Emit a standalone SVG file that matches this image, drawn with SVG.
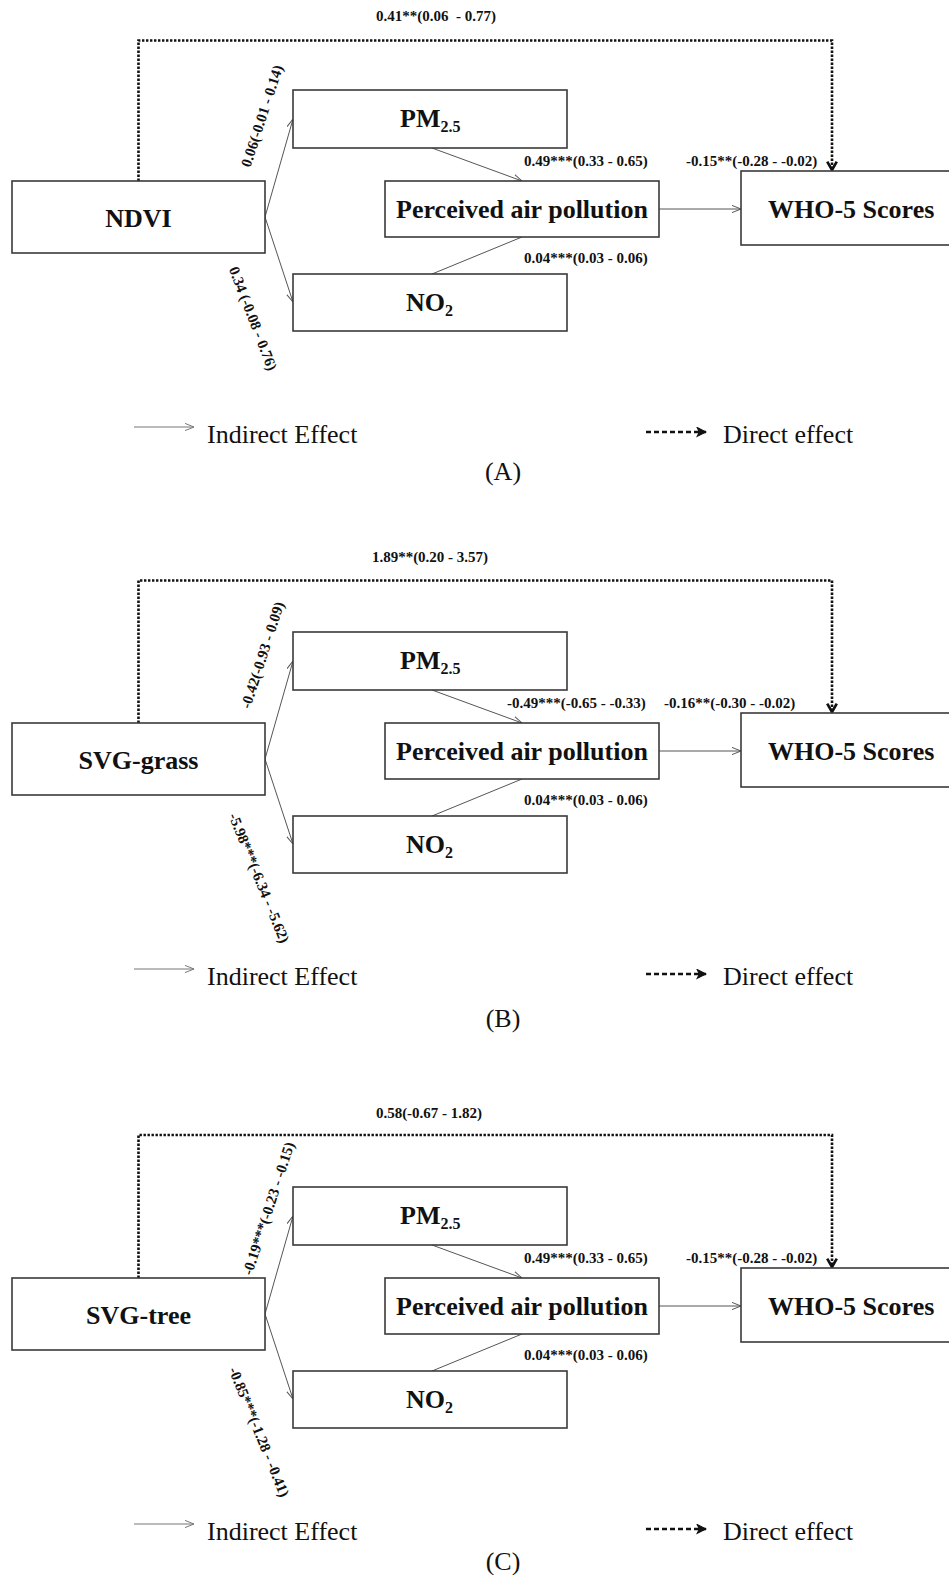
<svg xmlns="http://www.w3.org/2000/svg" width="949" height="1575" viewBox="0 0 949 1575">
<style>
.box{fill:#fff;stroke:#3a3a3a;stroke-width:1.6}
.lbl{font-family:"Liberation Serif","Times New Roman",serif;font-weight:bold;font-size:26px;fill:#111}
.sub{font-size:16px}
.coef{font-family:"Liberation Serif","Times New Roman",serif;font-weight:bold;font-size:15px;fill:#111}
.leg{font-family:"Liberation Serif","Times New Roman",serif;font-size:26px;fill:#111}
.thin{fill:none;stroke:#555;stroke-width:1}
.dotted{fill:none;stroke:#111;stroke-width:2.6;stroke-dasharray:2.4 1.6}
.dashed{fill:none;stroke:#111;stroke-width:2.4;stroke-dasharray:5 3}
</style>
<defs>
<marker id="open" viewBox="0 0 10 10" refX="10" refY="5" markerWidth="9" markerHeight="9" markerUnits="userSpaceOnUse" orient="auto"><path d="M0,1 L10,5 L0,9" fill="none" stroke="#555" stroke-width="1.1"/></marker>
<marker id="openLeg" viewBox="0 0 10 10" refX="10" refY="5" markerWidth="9" markerHeight="9" markerUnits="userSpaceOnUse" orient="auto"><path d="M0,1 L10,5 L0,9" fill="none" stroke="#777" stroke-width="1.1"/></marker>
<marker id="bold" viewBox="0 0 10 10" refX="9" refY="5" markerWidth="12" markerHeight="12" markerUnits="userSpaceOnUse" orient="auto"><path d="M2,1 L9,5 L2,9" fill="none" stroke="#111" stroke-width="2.2"/></marker>
<marker id="solidHead" viewBox="0 0 10 10" refX="9" refY="5" markerWidth="11" markerHeight="11" markerUnits="userSpaceOnUse" orient="auto"><path d="M1,1 L9,5 L1,9 L3,5 Z" fill="#111" stroke="#111" stroke-width="1"/></marker>
</defs>

<!-- ===== Panel A ===== -->
<g id="panel-A">
  <g id="A-connectors">
    <path class="dotted" d="M138.5,181 V40.5 H832 V170" marker-end="url(#bold)"/>
    <path class="thin" d="M265,217 L293,119" marker-end="url(#open)"/>
    <path class="thin" d="M265,217 L293,302" marker-end="url(#open)"/>
    <path class="thin" d="M432,148 L522,181" marker-end="url(#open)"/>
    <path class="thin" d="M432,274 L522,237"/>
    <path class="thin" d="M659,209 L741,209" marker-end="url(#open)"/>
    <text class="coef" x="436" y="21" text-anchor="middle" xml:space="preserve">0.41**(0.06  - 0.77)</text>
    <text class="coef" transform="translate(262,116) rotate(-72)" text-anchor="middle" dy="5">0.06(-0.01 - 0.14)</text>
    <text class="coef" transform="translate(253,318.5) rotate(69)" text-anchor="middle" dy="5">0.34 (-0.08 - 0.76)</text>
    <text class="coef" x="524" y="166">0.49***(0.33 - 0.65)</text>
    <text class="coef" x="686" y="166">-0.15**(-0.28 - -0.02)</text>
    <text class="coef" x="524" y="263">0.04***(0.03 - 0.06)</text>
  </g>
  <g id="A-ndvi"><rect class="box" x="12" y="181" width="253" height="72"/><text class="lbl" x="138.5" y="226.5" text-anchor="middle">NDVI</text></g>
  <g id="A-pm25"><rect class="box" x="293" y="90" width="274" height="58"/><text class="lbl" x="400" y="126.5">PM<tspan class="sub" dy="5">2.5</tspan></text></g>
  <g id="A-perceived"><rect class="box" x="385" y="181" width="274" height="56"/><text class="lbl" x="522" y="218" text-anchor="middle">Perceived air pollution</text></g>
  <g id="A-no2"><rect class="box" x="293" y="274" width="274" height="57"/><text class="lbl" x="406" y="311">NO<tspan class="sub" dy="5">2</tspan></text></g>
  <g id="A-who5"><rect class="box" x="741" y="171" width="220" height="74"/><text class="lbl" x="768" y="218">WHO-5 Scores</text></g>
  <g id="A-legend">
    <path d="M134,427 L194,427" fill="none" stroke="#777" stroke-width="1" marker-end="url(#openLeg)"/>
    <text class="leg" x="207" y="443">Indirect Effect</text>
    <path class="dashed" d="M646,432 L706,432" marker-end="url(#solidHead)"/>
    <text class="leg" x="723" y="443">Direct effect</text>
    <text class="leg" x="503" y="480" text-anchor="middle">(A)</text>
  </g>
</g>

<!-- ===== Panel B ===== -->
<g id="panel-B" transform="translate(0,542)">
  <g id="B-connectors">
    <path class="dotted" d="M138.5,181 V38.5 H832 V170" marker-end="url(#bold)"/>
    <path class="thin" d="M265,217 L293,119" marker-end="url(#open)"/>
    <path class="thin" d="M265,217 L293,302" marker-end="url(#open)"/>
    <path class="thin" d="M432,148 L522,181" marker-end="url(#open)"/>
    <path class="thin" d="M432,274 L522,237"/>
    <path class="thin" d="M659,209 L741,209" marker-end="url(#open)"/>
    <text class="coef" x="430" y="20" text-anchor="middle">1.89**(0.20 - 3.57)</text>
    <text class="coef" transform="translate(262.5,113) rotate(-72)" text-anchor="middle" dy="5">-0.42(-0.93 - 0.09)</text>
    <text class="coef" transform="translate(259,336) rotate(68)" text-anchor="middle" dy="5">-5.98***(-6.34 - -5.62)</text>
    <text class="coef" x="507" y="166">-0.49***(-0.65 - -0.33)</text>
    <text class="coef" x="664" y="166">-0.16**(-0.30 - -0.02)</text>
    <text class="coef" x="524" y="263">0.04***(0.03 - 0.06)</text>
  </g>
  <g id="B-svggrass"><rect class="box" x="12" y="181" width="253" height="72"/><text class="lbl" x="138.5" y="226.5" text-anchor="middle">SVG-grass</text></g>
  <g id="B-pm25"><rect class="box" x="293" y="90" width="274" height="58"/><text class="lbl" x="400" y="126.5">PM<tspan class="sub" dy="5">2.5</tspan></text></g>
  <g id="B-perceived"><rect class="box" x="385" y="181" width="274" height="56"/><text class="lbl" x="522" y="218" text-anchor="middle">Perceived air pollution</text></g>
  <g id="B-no2"><rect class="box" x="293" y="274" width="274" height="57"/><text class="lbl" x="406" y="311">NO<tspan class="sub" dy="5">2</tspan></text></g>
  <g id="B-who5"><rect class="box" x="741" y="171" width="220" height="74"/><text class="lbl" x="768" y="218">WHO-5 Scores</text></g>
  <g id="B-legend">
    <path d="M134,427 L194,427" fill="none" stroke="#777" stroke-width="1" marker-end="url(#openLeg)"/>
    <text class="leg" x="207" y="443">Indirect Effect</text>
    <path class="dashed" d="M646,432 L706,432" marker-end="url(#solidHead)"/>
    <text class="leg" x="723" y="443">Direct effect</text>
    <text class="leg" x="503" y="485" text-anchor="middle">(B)</text>
  </g>
</g>

<!-- ===== Panel C ===== -->
<g id="panel-C" transform="translate(0,1097)">
  <g id="C-connectors">
    <path class="dotted" d="M138.5,181 V38 H832 V170" marker-end="url(#bold)"/>
    <path class="thin" d="M265,217 L293,119" marker-end="url(#open)"/>
    <path class="thin" d="M265,217 L293,302" marker-end="url(#open)"/>
    <path class="thin" d="M432,148 L522,181" marker-end="url(#open)"/>
    <path class="thin" d="M432,274 L522,237"/>
    <path class="thin" d="M659,209 L741,209" marker-end="url(#open)"/>
    <text class="coef" x="429" y="20.5" text-anchor="middle">0.58(-0.67 - 1.82)</text>
    <text class="coef" transform="translate(268.5,111.5) rotate(-72)" text-anchor="middle" dy="5">-0.19***(-0.23 - -0.15)</text>
    <text class="coef" transform="translate(259,335) rotate(68)" text-anchor="middle" dy="5">-0.85***(-1.28 - -0.41)</text>
    <text class="coef" x="524" y="166">0.49***(0.33 - 0.65)</text>
    <text class="coef" x="686" y="166">-0.15**(-0.28 - -0.02)</text>
    <text class="coef" x="524" y="263">0.04***(0.03 - 0.06)</text>
  </g>
  <g id="C-svgtree"><rect class="box" x="12" y="181" width="253" height="72"/><text class="lbl" x="138.5" y="226.5" text-anchor="middle">SVG-tree</text></g>
  <g id="C-pm25"><rect class="box" x="293" y="90" width="274" height="58"/><text class="lbl" x="400" y="126.5">PM<tspan class="sub" dy="5">2.5</tspan></text></g>
  <g id="C-perceived"><rect class="box" x="385" y="181" width="274" height="56"/><text class="lbl" x="522" y="218" text-anchor="middle">Perceived air pollution</text></g>
  <g id="C-no2"><rect class="box" x="293" y="274" width="274" height="57"/><text class="lbl" x="406" y="311">NO<tspan class="sub" dy="5">2</tspan></text></g>
  <g id="C-who5"><rect class="box" x="741" y="171" width="220" height="74"/><text class="lbl" x="768" y="218">WHO-5 Scores</text></g>
  <g id="C-legend">
    <path d="M134,427 L194,427" fill="none" stroke="#777" stroke-width="1" marker-end="url(#openLeg)"/>
    <text class="leg" x="207" y="443">Indirect Effect</text>
    <path class="dashed" d="M646,432 L706,432" marker-end="url(#solidHead)"/>
    <text class="leg" x="723" y="443">Direct effect</text>
    <text class="leg" x="503" y="473" text-anchor="middle">(C)</text>
  </g>
</g>
</svg>
